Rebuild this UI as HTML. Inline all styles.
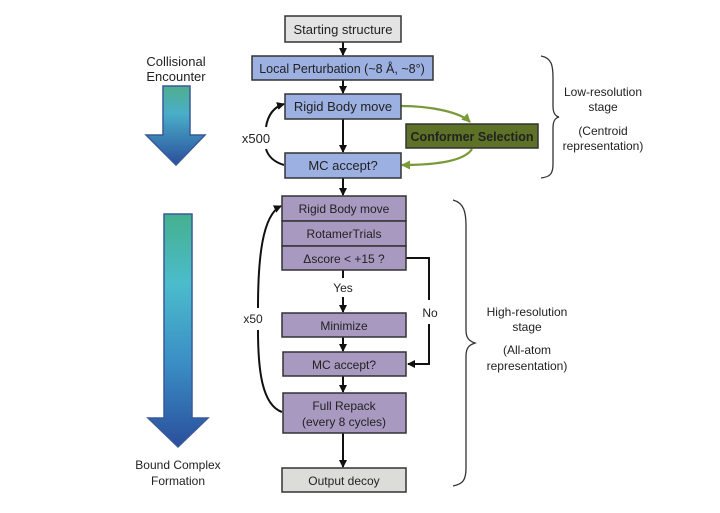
<!DOCTYPE html>
<html><head><meta charset="utf-8"><style>
html,body{margin:0;padding:0;background:#fff}
svg{display:block}
text{font-family:"Liberation Sans",sans-serif;fill:#222}
</style></head><body>
<svg width="720" height="513" viewBox="0 0 720 513" xmlns="http://www.w3.org/2000/svg">
<defs>
<linearGradient id="g1" x1="0" y1="0" x2="0" y2="1"><stop offset="0" stop-color="#4fae8e"/><stop offset="0.35" stop-color="#4aaec8"/><stop offset="1" stop-color="#2a4f9c"/></linearGradient>
<linearGradient id="g2" x1="0" y1="0" x2="0" y2="1"><stop offset="0" stop-color="#45b08e"/><stop offset="0.3" stop-color="#4bbccc"/><stop offset="0.65" stop-color="#3a8cc4"/><stop offset="1" stop-color="#2a4f9c"/></linearGradient>
<marker id="ah" markerWidth="8" markerHeight="8" refX="7" refY="4" orient="auto" markerUnits="userSpaceOnUse"><path d="M0,0 L8,4 L0,8 z" fill="#111"/></marker>
<marker id="ag" markerWidth="9" markerHeight="9" refX="8" refY="4.5" orient="auto" markerUnits="userSpaceOnUse"><path d="M0,0 L9,4.5 L0,9 z" fill="#7a9a3a"/></marker>
</defs>
<path d="M163,86 H190 V135 H205 L176,165 L146,135 H163 Z" fill="url(#g1)" stroke="#3a5a9a" stroke-width="1.5"/>
<text x="176" y="66" font-size="13" text-anchor="middle">Collisional</text>
<text x="176" y="81" font-size="13" text-anchor="middle">Encounter</text>
<path d="M164,214 H192 V418 H208 L178,447 L148,418 H164 Z" fill="url(#g2)" stroke="#3a5a9a" stroke-width="1.5"/>
<text x="178" y="469" font-size="12" text-anchor="middle">Bound Complex</text>
<text x="178" y="485" font-size="12" text-anchor="middle">Formation</text>

<g stroke="#111" stroke-width="2" fill="none">
<line x1="343" y1="42" x2="343" y2="55" marker-end="url(#ah)"/>
<line x1="343" y1="80" x2="343" y2="93" marker-end="url(#ah)"/>
<line x1="343" y1="119" x2="343" y2="152" marker-end="url(#ah)"/>
<line x1="343" y1="178" x2="343" y2="195" marker-end="url(#ah)"/>
<line x1="343" y1="270" x2="343" y2="278"/>
<line x1="343" y1="297" x2="343" y2="312" marker-end="url(#ah)"/>
<line x1="343" y1="337" x2="343" y2="351" marker-end="url(#ah)"/>
<line x1="343" y1="376" x2="343" y2="392" marker-end="url(#ah)"/>
<line x1="343" y1="433" x2="343" y2="467" marker-end="url(#ah)"/>
<path d="M406,258 H429 V300"/>
<path d="M429,324 V364 H408" marker-end="url(#ah)"/>
<path d="M284,165 C274,162 268,156 266,149"/>
<path d="M266,127 C268,114 274,107 284,104" marker-end="url(#ah)"/>
<path d="M282,412 C262,405 258,370 258,330"/>
<path d="M258,308 C258,260 262,215 281,206" marker-end="url(#ah)"/>
</g>
<g stroke="#7a9a3a" stroke-width="2.2" fill="none">
<path d="M401,106 C430,106 460,112 470,122" marker-end="url(#ag)"/>
<path d="M472,149 C465,160 440,165 402,165" marker-end="url(#ag)"/>
</g>
<text x="343" y="292" font-size="12" text-anchor="middle">Yes</text>
<text x="430" y="317" font-size="12" text-anchor="middle">No</text>
<text x="256" y="143" font-size="13" text-anchor="middle">x500</text>
<text x="253" y="323" font-size="12" text-anchor="middle">x50</text>

<g stroke="#333" stroke-width="1.5">
<rect x="285" y="16" width="116" height="26" fill="#e3e3e3"/>
<rect x="252" y="56" width="181" height="24" fill="#9cb0e2"/>
<rect x="285" y="94" width="116" height="25" fill="#9cb0e2"/>
<rect x="285" y="153" width="116" height="25" fill="#9cb0e2"/>
<rect x="406" y="124" width="132" height="24" fill="#5d7226"/>
<rect x="282" y="196" width="124" height="25" fill="#a899c0"/>
<rect x="282" y="221" width="124" height="25" fill="#a899c0"/>
<rect x="282" y="246" width="124" height="24" fill="#a899c0"/>
<rect x="282" y="313" width="124" height="24" fill="#a899c0"/>
<rect x="283" y="352" width="123" height="24" fill="#a899c0"/>
<rect x="283" y="393" width="123" height="40" fill="#a899c0"/>
<rect x="282" y="468" width="124" height="24" fill="#dcdcd8"/>
</g>
<g font-size="13" text-anchor="middle">
<text x="343" y="34">Starting structure</text>
<text x="342" y="73" font-size="12.5">Local Perturbation (~8 Å, ~8°)</text>
<text x="343" y="111">Rigid Body move</text>
<text x="343" y="170">MC accept?</text>
<text x="472" y="141" font-weight="bold" font-size="12.5" fill="#111">Conformer Selection</text>
</g>
<g font-size="12" text-anchor="middle">
<text x="344" y="213">Rigid Body  move</text>
<text x="344" y="238">RotamerTrials</text>
<text x="344" y="263">Δscore &lt; +15 ?</text>
<text x="344" y="330">Minimize</text>
<text x="344" y="369">MC accept?</text>
<text x="344" y="410">Full Repack</text>
<text x="344" y="426">(every 8 cycles)</text>
<text x="344" y="485">Output decoy</text>
</g>

<g stroke="#333" stroke-width="1.3" fill="none">
<path d="M541,56 C552,58 553,66 553,78 V106 C553,113 555,116 559,117 C555,118 553,121 553,128 V164 C553,174 550,177 541,178"/>
<path d="M453,200 C464,203 466,212 466,226 V330 C466,338 469,341 475,343 C469,345 466,348 466,356 V468 C466,480 463,484 453,486"/>
</g>
<g font-size="12" text-anchor="middle">
<text x="603" y="96">Low-resolution</text>
<text x="603" y="111">stage</text>
<text x="603" y="135">(Centroid</text>
<text x="603" y="150">representation)</text>
<text x="527" y="316">High-resolution</text>
<text x="527" y="331">stage</text>
<text x="527" y="354">(All-atom</text>
<text x="527" y="370">representation)</text>
</g>
</svg>
</body></html>
